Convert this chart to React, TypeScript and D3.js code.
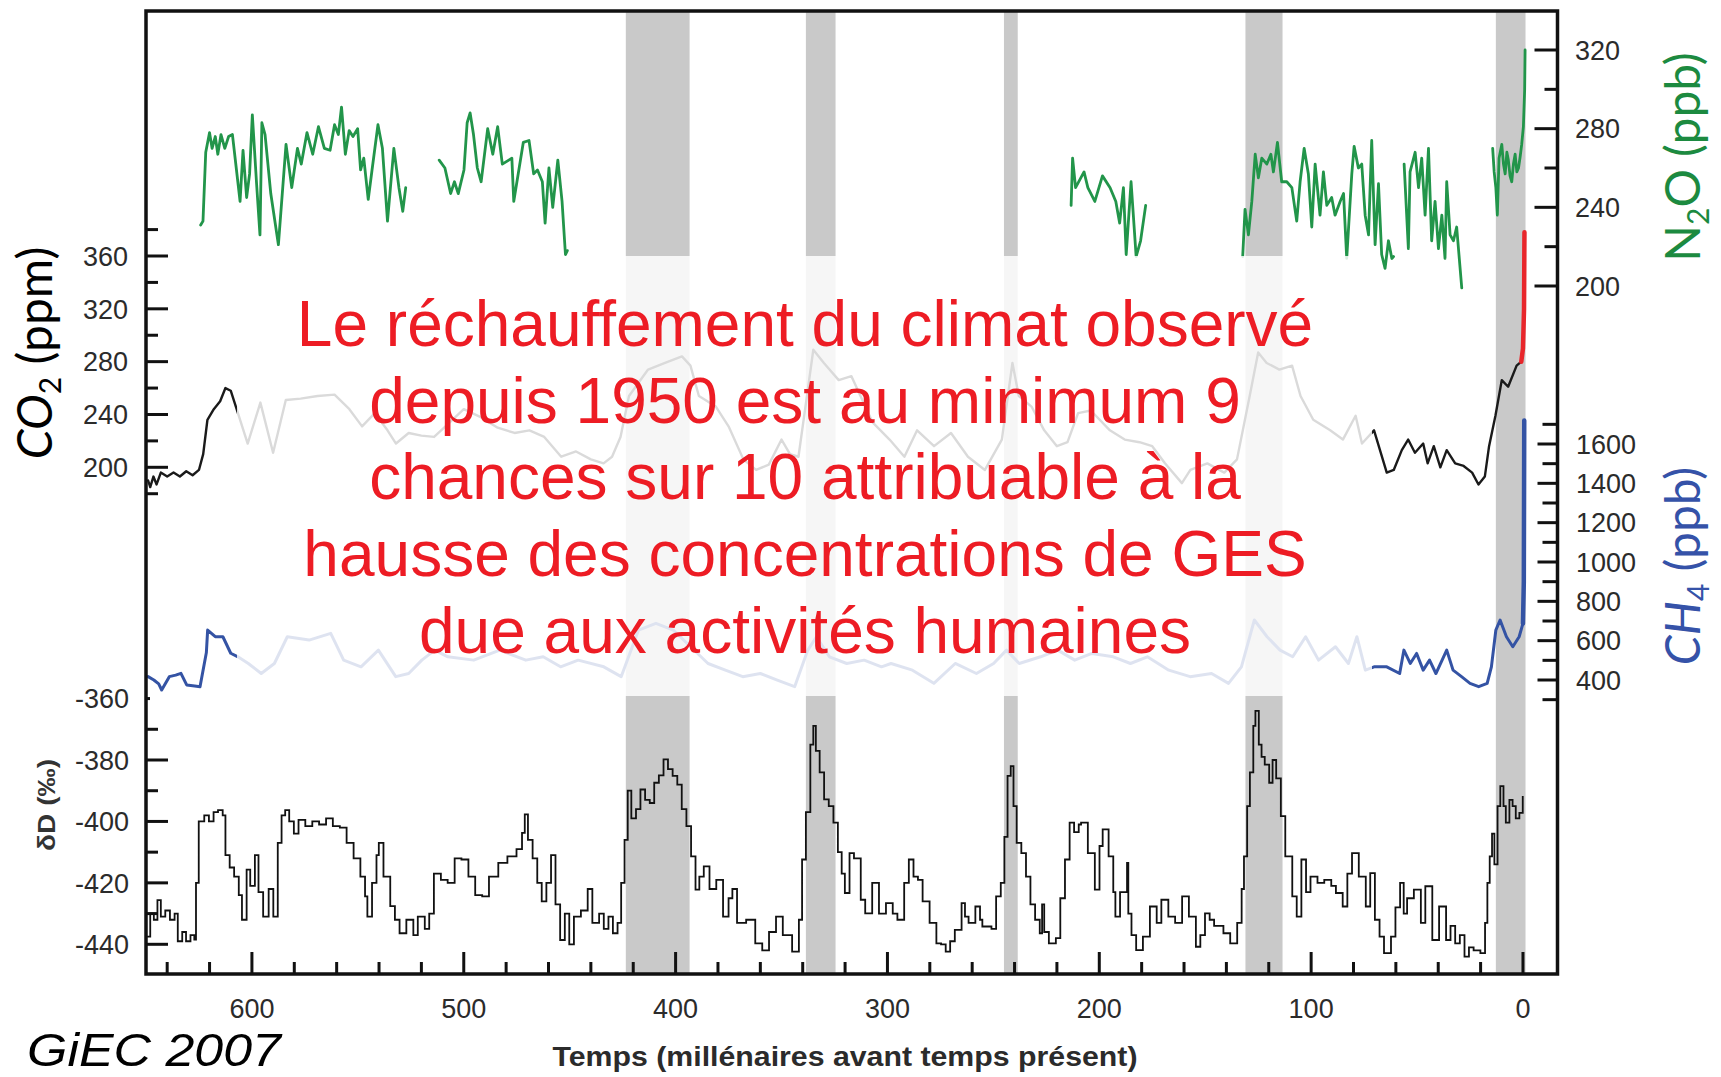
import React from 'react';
import * as d3 from 'd3';

// ---------- DATA (ky before present, value) ----------
const interglacials: [number, number][] = [[423.5, 393.4], [338.5, 324.5], [245, 238.5], [131, 113.5], [12.8, -1.2]];

const xTicks = d3.range(0, 641, 20);
const xLabels = [600, 500, 400, 300, 200, 100, 0];
const co2Ticks = d3.range(180, 381, 20);
const co2Labels = [200, 240, 280, 320, 360];
const ddTicks = d3.range(-440, -369, 10);
const ddLabels = [-440, -420, -400, -380, -360];
const n2oTicks = d3.range(200, 321, 20);
const n2oLabels = [200, 240, 280, 320];
const ch4Ticks = d3.range(300, 1701, 100);
const ch4Labels = [400, 600, 800, 1000, 1200, 1400, 1600];

const co2Data: [number, number][] = [
  [649, 190], [648, 185], [646.5, 193], [645, 187], [643, 196], [640, 193], [637, 196], [634, 193], [631, 197], [628, 194],
  [625, 198], [623, 210], [621, 236], [618, 244], [615, 250], [612.5, 260], [610, 258], [608, 248], [606, 238], [602, 218],
  [596, 249], [590, 211], [584, 251], [577, 252], [569, 254], [561, 255], [554, 244], [548, 231], [542, 241], [536, 228],
  [532, 218], [526, 226], [520, 224], [514, 223], [508, 232], [500, 244], [492, 238], [484, 230], [476, 226], [469, 228],
  [462, 223], [454, 208], [447, 212], [440, 206], [434, 203], [430, 208], [426, 223], [422, 254], [413, 274], [405, 279],
  [397, 284], [393, 277], [389, 254], [381, 246], [375, 231], [368, 206], [362, 198], [356, 202], [350, 221], [346, 210],
  [342, 208], [338, 254], [335, 289], [330, 279], [323, 266], [317, 269], [313, 255], [307, 234], [299, 221], [292, 208],
  [286, 228], [278, 216], [270, 226], [262, 208], [254, 198], [246, 221], [241, 279], [238, 254], [232, 246], [226, 228],
  [220, 216], [215, 219], [210, 241], [204, 243], [195, 228], [188, 221], [181, 219], [175, 216], [169, 203], [161, 188],
  [157, 198], [149, 203], [141, 196], [135, 206], [129, 254], [125, 287], [121, 279], [115, 274], [109, 277], [105, 254],
  [99, 236], [91, 228], [85, 221], [79, 239], [76, 218], [70.3, 228], [64.3, 196], [61, 198], [57.2, 213], [54.2, 221],
  [51, 211], [47.1, 218], [45, 203], [42.1, 216], [39, 200], [36, 213], [32, 203], [28, 201], [24, 196], [21, 187],
  [18, 193], [16, 216], [13, 239], [10, 266], [7, 261], [3, 277], [0.8, 280],
];
const co2Industrial: [number, number][] = [[0.8, 280], [0, 290], [-0.5, 320], [-0.7, 378]];

const ch4Data: [number, number][] = [
  [649, 417], [646.3, 400], [644, 380], [642.6, 349], [639, 417], [636, 425], [633.5, 434], [630.8, 375], [627, 370], [624.5, 366],
  [621.5, 540], [620.9, 654], [617.3, 620], [613.7, 620], [610, 536], [606.6, 518], [601.7, 484], [595.6, 433], [589.4, 484], [583.3, 620],
  [573, 603], [562.8, 637], [556.7, 501], [548.5, 467], [540.3, 552], [532.1, 417], [526, 433], [519.8, 501], [513.7, 552], [507.5, 518],
  [495.3, 501], [483, 552], [470.7, 501], [462.5, 518], [454.3, 467], [446, 501], [433.9, 467], [425.7, 417], [417.5, 654], [409.3, 688],
  [401.1, 654], [392.9, 569], [384.7, 484], [376.5, 450], [368.3, 417], [360, 433], [352, 399], [343.8, 366], [337.6, 552], [333.5, 620],
  [327.4, 518], [319.2, 484], [311, 501], [302.8, 467], [298.3, 484], [288.2, 450], [278.1, 383], [268, 484], [258, 433], [249.9, 484],
  [243.8, 552], [237.8, 484], [227.7, 518], [219.6, 552], [211.6, 501], [203.5, 535], [193.4, 518], [185.3, 484], [177.3, 518], [167.2, 450],
  [157.1, 417], [147, 433], [139, 383], [132.9, 467], [126.8, 705], [120.8, 620], [114.7, 552], [108.7, 518], [102.6, 620], [96.5, 501],
  [88.5, 569], [82.4, 484], [78.4, 620], [74.4, 450], [70.3, 467], [64.3, 467], [58.2, 433], [56.2, 552], [53.2, 484], [50.2, 535],
  [47.1, 450], [44.1, 501], [41.1, 433], [36, 552], [33, 450], [29, 417], [25, 383], [20.9, 366], [16.9, 383], [14.9, 467],
  [12.8, 654], [10.8, 705], [7.8, 620], [4.8, 569], [1.8, 620], [0, 688],
];
const ch4Industrial: [number, number][] = [[0, 688], [-0.4, 900], [-0.6, 1720]];

const n2oSegA: [number, number][] = [
  [624.2, 231], [623.1, 233], [621.8, 268], [620, 278], [618.8, 270], [617.3, 276], [616.1, 267], [614.6, 277], [612.8, 270], [611, 276],
  [609.2, 277], [607.4, 260], [605.6, 243], [604.2, 269], [602.5, 245], [601.1, 257], [599.8, 287], [597.8, 252], [596.2, 226], [595.3, 283],
  [593.8, 277], [591.1, 247], [587.5, 221], [583.9, 272], [581.2, 250], [578.5, 270], [576.7, 262], [574, 278], [571.3, 267], [568.6, 281],
  [565.8, 270], [563.1, 269], [561, 282], [559.2, 277], [557.7, 291], [555.9, 267], [554.1, 279], [552.3, 276], [550.1, 280], [548.7, 259],
  [547.2, 265], [545.1, 244], [543.3, 259], [540.5, 282], [538.4, 270], [536, 233], [533, 270], [530.6, 250], [528.8, 238], [527.4, 250],
];
const n2oSegB: [number, number][] = [
  [511.6, 264], [508.9, 260], [506.2, 247], [504.4, 253], [502.6, 247], [499.9, 259], [498.4, 283], [497, 288], [495.4, 277], [493.6, 260],
  [491.8, 253], [488.7, 280], [486.3, 267], [484, 281], [481.8, 262], [477.3, 265], [476.4, 243], [471.9, 273], [469.2, 274], [467, 257],
  [465.2, 259], [462.9, 253], [461.6, 232], [459.8, 260], [458, 240], [455.6, 264], [453.6, 243], [452, 216], [451.1, 218],
];
const n2oSegC: [number, number][] = [
  [213.3, 241], [212.6, 265], [211.2, 250], [207.2, 258], [205.4, 250], [202.1, 243], [198.5, 256], [194.9, 250], [192.2, 243], [190.4, 232],
  [188.6, 250], [187.3, 216], [185, 253], [182.6, 215], [180.5, 223], [178.1, 241],
];
const n2oSegD1: [number, number][] = [
  [132.3, 215], [131.2, 239], [129.6, 226], [128, 243], [126.4, 267], [124.9, 255], [123.3, 265], [120.9, 262], [119, 267], [117.8, 258],
  [115.9, 273], [113.9, 253], [111.5, 253], [109.1, 250], [106.8, 233], [105.2, 253], [103.3, 270], [101.3, 257], [99.7, 230], [98.1, 262],
  [95.8, 236], [94.2, 258], [92.6, 241], [90.3, 245], [88.7, 236], [86.3, 243], [84.7, 247], [83.2, 214], [80.8, 257], [79.7, 271],
  [77.7, 260], [76.1, 262], [74.5, 236], [72.9, 226], [71.4, 274], [69.8, 221], [68.2, 252], [66.7, 216], [65.1, 209], [63.5, 223],
  [61.9, 214], [61.1, 215],
];
const n2oSegD2: [number, number][] = [
  [56.1, 262], [54.1, 219], [53.3, 258], [50.9, 268], [49.3, 250], [47.8, 265], [46.2, 236], [44.6, 270], [43.1, 223], [41.5, 243],
  [39.9, 219], [38.3, 236], [36.8, 214], [36, 253], [34.4, 226], [32.8, 223], [31.3, 230], [28.9, 199],
];
const n2oSegE: [number, number][] = [
  [14.3, 270], [13.6, 258], [12.8, 250], [12.1, 236], [11.3, 265], [10, 272], [9.2, 262], [8.4, 257], [7.6, 268], [6.9, 264],
  [6.1, 256], [5.3, 253], [4.5, 262], [3.7, 267], [2.9, 258], [2.1, 260], [1.3, 266], [0.6, 272], [-0.2, 281], [-0.8, 300], [-1, 320],
];

const deltaD: [number, number][] = [
  [649.5, -437.5], [648, -430], [646.3, -432], [644.6, -425.6], [643, -431], [640.9, -429], [638.7, -432], [636.5, -430], [635, -439], [632.9, -436],
  [631.1, -439], [629, -437], [627.2, -438.5], [626.4, -420], [625.1, -400], [622.5, -398], [620.3, -400], [618.1, -397], [616, -396.3], [613.8, -398],
  [612.5, -411], [610.5, -415], [608.4, -418], [606.2, -424], [604.7, -432], [602.5, -415.7], [600.8, -421], [598.6, -411], [596.9, -423], [594.7, -431],
  [592.1, -422], [589.9, -431], [587.8, -407], [586, -398], [584.3, -396.3], [582.4, -400], [580.2, -404], [578, -399.5], [574.8, -401.5], [571.5, -400],
  [568.3, -401], [565, -399], [561.8, -401.5], [558.5, -402], [555.3, -407], [552, -412], [548.8, -418], [546.6, -424.4], [545.5, -431], [543.3, -420],
  [541.2, -411], [540.1, -407], [537.9, -418], [534.7, -427.6], [532.5, -432], [530.3, -436.4], [527.1, -432], [523.8, -437], [521.7, -431], [518.4, -435],
  [516.3, -430], [514.1, -417], [510.8, -419], [507.6, -420], [504.3, -412], [501.1, -412.4], [497.8, -418], [494.6, -424], [491.3, -424.4], [488.1, -418],
  [483.7, -413.5], [479.4, -411.4], [475.1, -409], [472.5, -403.7], [471.2, -397.7], [469.7, -406], [467.5, -412], [465.3, -420], [463.2, -426], [461, -420],
  [458.8, -411], [456.7, -427], [454.5, -438.6], [452.3, -430], [450.2, -440], [448, -431], [444.7, -429], [441.5, -422], [439.3, -433], [436.1, -430],
  [433.9, -435], [431.7, -431], [429.6, -436.4], [427.4, -433], [425.7, -420], [424.1, -406], [422.6, -390], [420.9, -399], [418.7, -396], [416.6, -389.6],
  [414.4, -393], [412.2, -394], [410.1, -387.4], [407.9, -385], [405.7, -379.8], [403.6, -383], [401.4, -385.2], [399.2, -388], [397.1, -396], [394.9, -401.5],
  [392.7, -411.4], [390.6, -422.2], [388.8, -418], [386.7, -414.6], [384, -422], [380.8, -419], [377.6, -431], [375, -425], [373.2, -422], [371, -433],
  [366.7, -432], [362.4, -439.7], [359.1, -442], [355.9, -436], [352.6, -431], [349.4, -437], [345, -442.4], [341.8, -432], [340.3, -412.4], [338.5, -397],
  [336.4, -375], [335, -368.9], [333.8, -377], [332, -384], [329.9, -392.8], [327.7, -395], [325.5, -400.4], [323.4, -410], [321.6, -417], [320.1, -423.3],
  [317.9, -410.3], [315.8, -412], [312.6, -425.5], [310.5, -429.9], [307.2, -420], [304, -430], [300.7, -426.6], [297.5, -430], [295.3, -432], [292.1, -420],
  [289.9, -412.4], [287.7, -418], [285.6, -419], [283.4, -426], [280.1, -433], [276.9, -439.7], [274.7, -440], [272.5, -442.4], [270.4, -439], [268.2, -435.3],
  [265, -426.6], [263.4, -431], [261.7, -433], [258.5, -427.7], [256.3, -432], [255.2, -434.2], [250.9, -435], [248.7, -424.4], [246.5, -420], [244.8, -405],
  [243.3, -385.2], [241.8, -382], [240.5, -395], [239, -407], [236.8, -410.3], [234.6, -418], [232.5, -427], [230.3, -432], [228.1, -436.4], [227, -427],
  [226, -436], [223.8, -439.7], [220.5, -438], [218.4, -425], [216.2, -412.4], [214, -400.4], [211.9, -403.5], [209.7, -401], [208.6, -400.4], [205.4, -410.3],
  [202.1, -422.2], [199.9, -408], [198.4, -402.6], [195.6, -411.4], [193.4, -423], [192.4, -431], [190.2, -423], [186.9, -413.5], [186.3, -430], [184.8, -437],
  [182.6, -441.9], [179.4, -437.5], [176.1, -427.7], [172.9, -433], [170.7, -425.5], [167.4, -431], [164.2, -433], [160.9, -424.4], [157.7, -431], [154.4, -440.8],
  [152.3, -437], [150.1, -429.9], [147.9, -432], [145.8, -434], [141.4, -436.4], [138.2, -439.7], [134.9, -433], [132.8, -422], [131.7, -411.4], [130.2, -395],
  [128.9, -384], [127.3, -368.9], [126.3, -364], [124.7, -375], [123.4, -379], [121.9, -381.5], [119.8, -387.4], [118.2, -380], [116.5, -386], [114.3, -398.3],
  [112.2, -411.4], [108.9, -424.4], [106.8, -431], [104.6, -412.4], [102.4, -423], [100.3, -418], [97, -420], [93.8, -419], [90.5, -421], [88.3, -423.3],
  [85.1, -427.7], [82.9, -417], [80.7, -410.3], [77.5, -418], [74.2, -427.7], [72.1, -416.8], [69.9, -432], [67.7, -437.5], [65.6, -442.9], [62.3, -437.5],
  [60.2, -428], [58, -420], [56.3, -430], [54.7, -425], [51.5, -422.2], [48.2, -433], [46.1, -421.1], [42.8, -438.6], [39.6, -427.7], [36.3, -438.6],
  [34.2, -434], [32, -439.7], [29.8, -437], [27.6, -444], [25.5, -441], [23.3, -442], [20.1, -442.9], [17.9, -433], [16.8, -420], [15.7, -411.4],
  [14.6, -404], [13.5, -414], [12, -395], [10.7, -388.5], [9.2, -395], [8.1, -400.4], [6.4, -393], [4.9, -395], [3.4, -399], [1.7, -397.2], [0.1, -391.7],
];

const messageLines = [
  'Le réchauffement du climat observé',
  'depuis 1950 est au minimum 9',
  'chances sur 10 attribuable à la',
  'hausse des concentrations de GES',
  'due aux activités humaines',
];

// ---------- LAYOUT ----------
const W = 1721;
const H = 1077;
const L = 146, R = 1557.5, T = 11, B = 974;
const fadeBox = { x0: 237, x1: 1372, y0: 256, y1: 696 };

const LABEL_FONT = "'Liberation Sans', Arial, Helvetica, sans-serif";
const TITLE_FONT = "Lato, 'Open Sans', sans-serif";
const LABEL_COLOR = '#2b2b2b';
const GREEN = '#22954a';
const BLUE = '#3453a4';

export default function App() {
  const x = d3.scaleLinear().domain([650, -16.3]).range([L, R]);
  const yN2O = d3.scaleLinear().domain([200, 320]).range([286, 50]);
  const yCO2 = d3.scaleLinear().domain([200, 360]).range([467.3, 256]);
  const yCH4 = d3.scaleLinear().domain([400, 1600]).range([680, 444]);
  const yDD = d3.scaleLinear().domain([-440, -380]).range([944.3, 760]);

  const lineN2O = d3.line<[number, number]>().x(d => x(d[0])).y(d => yN2O(d[1]));
  const lineCO2 = d3.line<[number, number]>().x(d => x(d[0])).y(d => yCO2(d[1]));
  const lineCH4 = d3.line<[number, number]>().x(d => x(d[0])).y(d => yCH4(d[1]));
  const lineDD = d3.line<[number, number]>().x(d => x(d[0])).y(d => yDD(d[1])).curve(d3.curveStepAfter);

  const n2oSegs = [n2oSegA, n2oSegB, n2oSegC, n2oSegD1, n2oSegD2, n2oSegE];

  return (
    <svg width={W} height={H} viewBox={`0 0 ${W} ${H}`} style={{ position: 'absolute', left: 0, top: 0, background: '#fff' }}>
      <rect x={0} y={0} width={W} height={H} fill="#fff" />
      {/* interglacial bands */}
      {interglacials.map(([a, b], i) => (
        <rect key={i} x={x(a)} y={T} width={x(b) - x(a)} height={B - T} fill="#c9c9c9" />
      ))}

      {/* data */}
      <g fill="none" strokeLinejoin="round" strokeLinecap="round">
        {n2oSegs.map((s, i) => (
          <path key={i} d={lineN2O(s) || ''} stroke={GREEN} strokeWidth={2.8} />
        ))}
        <path d={lineCO2(co2Data) || ''} stroke="#1a1a1a" strokeWidth={2.4} />
        <path d={lineCH4(ch4Data) || ''} stroke={BLUE} strokeWidth={3} />
        <path d={lineDD(deltaD) || ''} stroke="#111" strokeWidth={1.8} strokeLinecap="butt" strokeLinejoin="miter" />
      </g>

      {/* fading box behind the message */}
      <rect x={fadeBox.x0} y={fadeBox.y0} width={fadeBox.x1 - fadeBox.x0} height={fadeBox.y1 - fadeBox.y0} fill="#fff" opacity={0.84} />

      <g fill="none" strokeLinecap="round">
        <path d={lineCO2(co2Industrial) || ''} stroke="#e8262b" strokeWidth={4.5} />
        <path d={lineCH4(ch4Industrial) || ''} stroke={BLUE} strokeWidth={4.5} />
      </g>

      {/* frame */}
      <rect x={L} y={T} width={R - L} height={B - T} fill="none" stroke="#111" strokeWidth={3.5} />

      {/* ticks */}
      <g stroke="#111" strokeWidth={3}>
        {xTicks.map(v => (
          <line key={v} x1={x(v)} x2={x(v)} y1={B} y2={B - (v % 100 === 0 ? 22 : 12)} />
        ))}
        {co2Ticks.map(v => (
          <line key={'c' + v} x1={L} x2={L + (v % 40 === 0 ? 22 : 12)} y1={yCO2(v)} y2={yCO2(v)} />
        ))}
        {ddTicks.map(v => (
          <line key={'d' + v} x1={L} x2={L + (v % 20 === 0 ? 22 : 12)} y1={yDD(v)} y2={yDD(v)} />
        ))}
        <line x1={L} x2={L + 4} y1={yDD(-360)} y2={yDD(-360)} />
        {n2oTicks.map(v => (
          <line key={'n' + v} x1={R} x2={R - (v % 40 === 0 ? 23 : 13)} y1={yN2O(v)} y2={yN2O(v)} />
        ))}
        {ch4Ticks.map(v => (
          <line key={'m' + v} x1={R} x2={R - (v % 200 === 0 ? 20 : 15)} y1={yCH4(v)} y2={yCH4(v)} />
        ))}
      </g>

      {/* tick labels */}
      <g fontFamily={LABEL_FONT} fontSize={27} fill={LABEL_COLOR}>
        {xLabels.map(v => (
          <text key={v} x={x(v)} y={1018} textAnchor="middle">{v}</text>
        ))}
        {co2Labels.map(v => (
          <text key={'c' + v} x={128} y={yCO2(v)} dy="0.36em" textAnchor="end">{v}</text>
        ))}
        {ddLabels.map(v => (
          <text key={'d' + v} x={129} y={yDD(v)} dy="0.36em" textAnchor="end">{v}</text>
        ))}
        {n2oLabels.map(v => (
          <text key={'n' + v} x={1575} y={yN2O(v)} dy="0.36em" textAnchor="start">{v}</text>
        ))}
        {ch4Labels.map(v => (
          <text key={'m' + v} x={1576} y={yCH4(v)} dy="0.36em" textAnchor="start">{v}</text>
        ))}
      </g>

      {/* axis titles */}
      <text transform="translate(52,353) rotate(-90)" textAnchor="middle" fontFamily={TITLE_FONT} fontSize={48} fill="#000">
        <tspan fontStyle="italic">CO</tspan>
        <tspan dy={9} fontSize={30}>2</tspan>
        <tspan dy={-9}> (ppm)</tspan>
      </text>
      <text transform="translate(1700,157) rotate(-90)" textAnchor="middle" fontFamily={TITLE_FONT} fontSize={48} fill="#1c8a40">
        <tspan>N</tspan>
        <tspan dy={9} fontSize={30}>2</tspan>
        <tspan dy={-9}>O (ppb)</tspan>
      </text>
      <text transform="translate(1700,566) rotate(-90)" textAnchor="middle" fontFamily={TITLE_FONT} fontSize={48} fill="#3552a8">
        <tspan fontStyle="italic">CH</tspan>
        <tspan dy={9} fontSize={30}>4</tspan>
        <tspan dy={-9}> (ppb)</tspan>
      </text>
      <text transform="translate(55,805) rotate(-90)" textAnchor="middle" fontFamily={LABEL_FONT} fontSize={24} fontWeight="bold" fill="#333" textLength={92} lengthAdjust="spacingAndGlyphs">
        δD (‰)
      </text>
      <text x={845} y={1066} textAnchor="middle" fontFamily={LABEL_FONT} fontSize={27} fontWeight="bold" fill="#2b2b2b" textLength={585} lengthAdjust="spacingAndGlyphs">
        Temps (millénaires avant temps présent)
      </text>
      <text x={27} y={1066} fontFamily={LABEL_FONT} fontSize={46} fontStyle="italic" fill="#000" textLength={254} lengthAdjust="spacingAndGlyphs">
        GiEC 2007
      </text>

      {/* message */}
      <g fontFamily={LABEL_FONT} fontSize={64} fill="#ed1c24" textAnchor="middle">
        {messageLines.map((s, i) => (
          <text key={i} x={805} y={346 + i * 76.7}>{s}</text>
        ))}
      </g>
    </svg>
  );
}
